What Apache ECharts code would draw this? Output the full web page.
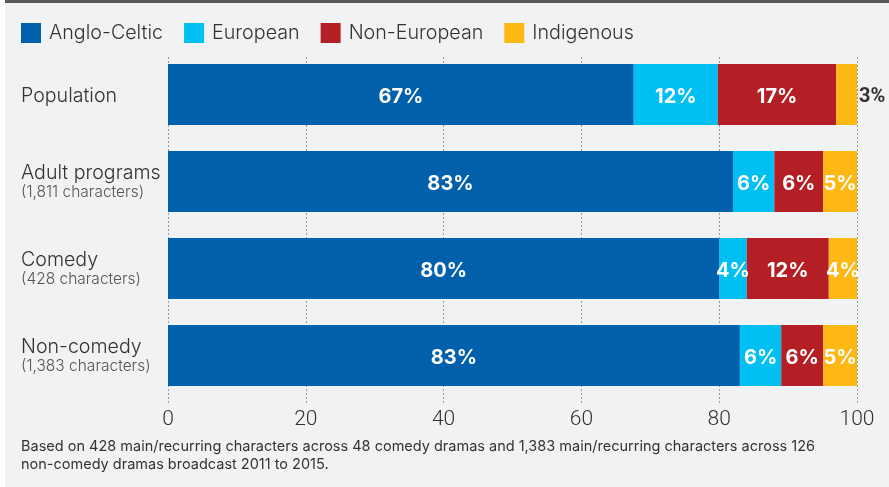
<!DOCTYPE html>
<html>
<head>
<meta charset="utf-8">
<script src="https://cdn.jsdelivr.net/npm/echarts@6/dist/echarts.min.js"></script>
<style>
html,body{margin:0;padding:0;background:#ffffff;}
#chart{width:889px;height:487px;}
</style>
</head>
<body>
<div id="chart"></div>
<script>
// ---- data ----
var categories = ['Population', 'Adult programs', 'Comedy', 'Non-comedy'];
var subLabels = ['', '(1,811 characters)', '(428 characters)', '(1,383 characters)'];
var seriesNames = ['Anglo-Celtic', 'European', 'Non-European', 'Indigenous'];
var angloCeltic = [67.6, 82.0, 80.0, 83.0];
var european    = [12.2, 6.0, 4.0, 6.0];
var nonEuropean = [17.2, 7.1, 11.9, 6.1];
var indigenous  = [3.0, 4.9, 4.1, 4.9];
var angloLabels = [67, 83, 80, 83];
var euroLabels  = [12, 6, 4, 6];
var nonEuroLabels = [17, 6, 12, 6];
var indigLabels = [3, 5, 4, 5];
var xTicks = [0, 20, 40, 60, 80, 100];
var footnote = 'Based on 428 main/recurring characters across 48 comedy dramas and 1,383 main/recurring characters across 126\nnon-comedy dramas broadcast 2011 to 2015.';

// ---- styles ----
var colors = ['#0060ac', '#00bff3', '#b31f25', '#fdb813'];
var FONT = 'Inter, Roboto, "Noto Sans", sans-serif';
var NUMFONT = 'Roboto, "Noto Sans", sans-serif';
var values = [angloCeltic, european, nonEuropean, indigenous];
var labelSets = [angloLabels, euroLabels, nonEuroLabels, indigLabels];

var series = seriesNames.map(function (name, si) {
  return {
    name: name,
    type: 'bar',
    stack: 'total',
    xAxisIndex: 0,
    yAxisIndex: 0,
    barWidth: 61,
    z: 5,
    itemStyle: {color: colors[si]},
    label: {
      show: true,
      position: 'inside',
      offset: [0, 2],
      color: '#ffffff',
      fontFamily: FONT,
      fontWeight: 'bold',
      fontSize: 20,
      formatter: function (p) { return labelSets[si][p.dataIndex] + '%'; }
    },
    data: values[si].map(function (v, di) {
      var item = {value: v};
      if (si === 3 && di === 0) {
        item.label = {position: 'right', distance: 2, fontFamily: NUMFONT, fontSize: 20, color: '#333333'};
      }
      return item;
    })
  };
});

// gridline helper series (empty) on second grid
series.push({
  type: 'line', xAxisIndex: 1, yAxisIndex: 1, data: [], silent: true
});

var chart = echarts.init(document.getElementById('chart'), null, {renderer: 'canvas'});
chart.setOption({
  animation: false,
  backgroundColor: '#ffffff',
  graphic: [
    {type: 'rect', z: -10, shape: {x: 5, y: 0, width: 884, height: 487}, style: {fill: '#f1f2f4'}},
    {type: 'rect', z: -9, shape: {x: 5, y: 0, width: 884, height: 3}, style: {fill: '#58595b'}},
    {type: 'text', left: 21, top: 438, style: {
      text: footnote, fill: '#333333', font: '14.5px ' + FONT, lineHeight: 18
    }}
  ],
  legend: {
    left: 21,
    top: 23,
    padding: 0,
    itemWidth: 20,
    itemHeight: 20,
    itemGap: 21,
    icon: 'rect',
    data: seriesNames,
    textStyle: {fontFamily: FONT, fontSize: 19.7, fontWeight: 300, color: '#333333', padding: [0, 0, 0, 3]}
  },
  grid: [
    {left: 168, width: 689, top: 51, height: 348},
    {left: 168, width: 689, top: 57, height: 346}
  ],
  xAxis: [
    {type: 'value', gridIndex: 0, min: 0, max: 100, show: false},
    {
      type: 'value', gridIndex: 1, min: xTicks[0], max: xTicks[xTicks.length - 1], interval: 20,
      axisLine: {show: false},
      axisTick: {show: false},
      splitLine: {show: true, lineStyle: {color: '#9a9a9a', type: [2, 2], width: 1}},
      axisLabel: {fontFamily: NUMFONT, fontWeight: 300, fontSize: 21, color: '#333333', margin: 6}
    }
  ],
  yAxis: [
    {
      type: 'category', gridIndex: 0, inverse: true, data: categories,
      axisLine: {show: false}, axisTick: {show: false},
      axisLabel: {
        align: 'left',
        margin: 147,
        formatter: function (v, i) {
          return subLabels[i] ? '{a|' + v + '}\n{b|' + subLabels[i] + '}' : '{a|' + v + '}';
        },
        rich: {
          a: {fontFamily: FONT, fontSize: 19.6, fontWeight: 300, color: '#333333', lineHeight: 22, padding: [3, 0, 0, 0]},
          b: {fontFamily: FONT, fontSize: 15.5, fontWeight: 300, color: '#555555', lineHeight: 20}
        }
      }
    },
    {type: 'value', gridIndex: 1, show: false, min: 0, max: 1}
  ],
  series: series
});
</script>
</body>
</html>
